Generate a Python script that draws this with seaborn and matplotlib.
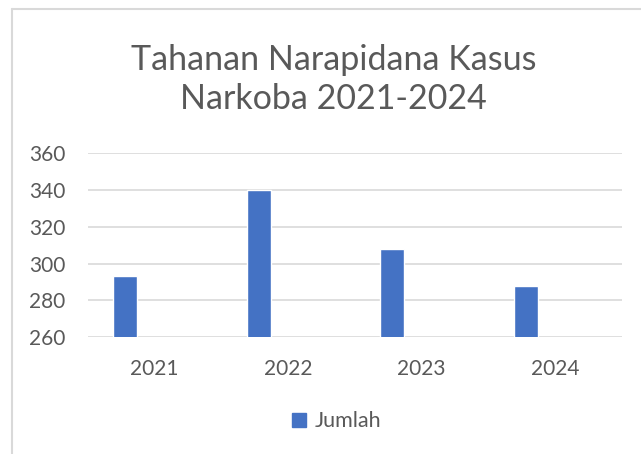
import matplotlib
matplotlib.use('Agg')
import matplotlib.pyplot as plt
import seaborn as sns
import pandas as pd
from matplotlib.lines import Line2D
from matplotlib.patches import Patch

years = ['2021', '2022', '2023', '2024']
jumlah = [293, 340, 308, 288]
yticks = [260, 280, 300, 320, 340, 360]

df = pd.DataFrame({'tahun': years, 'jumlah': jumlah})

sns.set_style('white')
plt.rcParams['font.family'] = ['Lato', 'DejaVu Sans']
grey = '#595959'
blue = '#4472C4'

fig = plt.figure(figsize=(6.41, 4.54), dpi=100)
ax = fig.add_axes([0.137, 0.258, 0.833, 0.404])

sns.barplot(x='tahun', y='jumlah', data=df, color=blue, width=0.18,
            saturation=1, ax=ax, zorder=3)
# Excel-style offset: bar sits left of category centre
for p in ax.patches:
    p.set_x(p.get_x() - 0.22)

ax.set_ylim(260, 360)
ax.set_xlim(-0.5, 3.5)
ax.set_yticks(yticks)
ax.yaxis.grid(True, color='#d9d9d9', linewidth=1.2, zorder=0)
for s in ax.spines.values():
    s.set_visible(False)
ax.tick_params(axis='both', length=0, labelsize=15, colors=grey)
ax.tick_params(axis='x', pad=16)
ax.tick_params(axis='y', pad=16)
ax.set_xlabel('')
ax.set_ylabel('')

fig.text(0.52, 0.824, 'Tahanan Narapidana Kasus\nNarkoba 2021-2024',
         ha='center', va='center', fontsize=24.5, color=grey, linespacing=1.27)

fig.legend(handles=[Patch(color=blue, label='Jumlah')], loc='center',
           bbox_to_anchor=(0.525, 0.072), frameon=False, fontsize=15.5,
           labelcolor=grey, handlelength=0.65, handleheight=0.65,
           handletextpad=0.4)

# chart frame
fig.add_artist(Line2D([0.018, 0.018], [0, 0.98], color='#d9d9d9', lw=1.5))
fig.add_artist(Line2D([0.018, 1.0], [0.98, 0.98], color='#d9d9d9', lw=1.5))

fig.savefig('out.png', dpi=100)
